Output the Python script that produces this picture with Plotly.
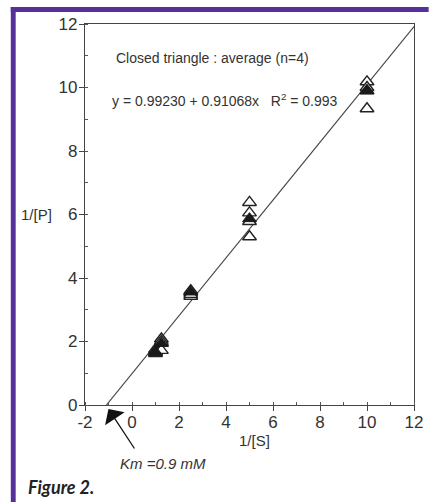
import plotly.graph_objects as go

# ---- data ----
inv_S = [1, 1.25, 2.5, 5, 10]
open_runs = [
    [1.75, 1.62, 1.70, 1.65],
    [2.08, 1.95, 1.72, 2.00],
    [3.42, 3.55, 3.60, 3.48],
    [6.38, 6.05, 5.78, 5.30],
    [10.18, 10.00, 9.90, 9.33],
]
avg_P = [1.67, 1.94, 3.56, 5.87, 9.90]
fit_intercept = 0.99230
fit_slope = 0.91068
fit_x = [-1.09, 12]
x_ticks = [-2, 0, 2, 4, 6, 8, 10, 12]
x_tick_labels = ["-2", "0", "2", "4", "6", "8", "10", "12"]
y_ticks = [0, 2, 4, 6, 8, 10, 12]
y_tick_labels = ["0", "2", "4", "6", "8", "10", "12"]

W, H = 435, 502
ML, MR, MT, MB = 85, 13, 24, 97
pw = W - ML - MR
ph = H - MT - MB

def px2paper_x(px):
    return (px - ML) / pw

def py2paper_y(py):
    return (H - MB - py) / ph

ox, oy = [], []
for xv, runs in zip(inv_S, open_runs):
    for r in runs:
        ox.append(xv)
        oy.append(r)

fig = go.Figure()
fig.add_trace(go.Scatter(
    x=fit_x, y=[fit_intercept + fit_slope * v for v in fit_x],
    mode="lines", line=dict(color="#444444", width=1.2),
    showlegend=False, hoverinfo="skip"))
fig.add_trace(go.Scatter(
    x=ox, y=oy, mode="markers",
    marker=dict(symbol="triangle-up", size=12, color="white",
                line=dict(color="#222222", width=1.4)),
    showlegend=False, cliponaxis=False))
fig.add_trace(go.Scatter(
    x=inv_S, y=avg_P, mode="markers",
    marker=dict(symbol="triangle-up", size=12, color="#1a1a1a",
                line=dict(color="#1a1a1a", width=1)),
    showlegend=False, cliponaxis=False))

axis_common = dict(
    showgrid=False, zeroline=False, showline=True, linecolor="#444444",
    linewidth=1.2, mirror=True, ticks="outside", ticklen=5, tickwidth=1.2,
    tickcolor="#444444",
    tickfont=dict(family="Liberation Sans, Arial, sans-serif", size=17, color="#333333"),
    minor=dict(ticks="inside", ticklen=3, dtick=1, tickcolor="#555555", tickwidth=1),
)

fig.update_layout(
    width=W, height=H,
    margin=dict(l=ML, r=MR, t=MT, b=MB),
    paper_bgcolor="white", plot_bgcolor="white",
    xaxis=dict(range=[-2, 12], tickvals=x_ticks, ticktext=x_tick_labels,
               ticklabelstandoff=-4, **axis_common),
    yaxis=dict(range=[0, 12], tickvals=y_ticks, ticktext=y_tick_labels,
               ticklabelstandoff=-2, **axis_common),
    font=dict(family="Liberation Sans, Arial, sans-serif", color="#333333"),
)

txtfont = dict(family="Liberation Sans, Arial, sans-serif", size=14, color="#333333")
fig.add_annotation(x=-0.75, y=10.93, xref="x", yref="y", text="Closed triangle : average (n=4)",
                   showarrow=False, xanchor="left", yanchor="middle", font=txtfont)
fig.add_annotation(x=-0.92, y=9.6, xref="x", yref="y",
                   text="y = 0.99230 + 0.91068x   R<sup>2</sup> = 0.993",
                   showarrow=False, xanchor="left", yanchor="middle", font=txtfont)
# axis titles
fig.add_annotation(x=px2paper_x(53), y=6.0, xref="paper", yref="y", text="1/[P]",
                   showarrow=False, xanchor="right", yanchor="middle",
                   font=dict(family="Liberation Sans, Arial, sans-serif", size=15, color="#333333"))
fig.add_annotation(x=5.2, y=py2paper_y(440), xref="x", yref="paper", text="1/[S]",
                   showarrow=False, xanchor="center", yanchor="middle",
                   font=dict(family="Liberation Sans, Arial, sans-serif", size=15, color="#333333"))
# Km arrow (paper-referenced so it is not hidden below the axis range)
fig.add_annotation(x=px2paper_x(109), y=py2paper_y(409), xref="paper", yref="paper",
                   ax=27, ay=41, text="", showarrow=True, arrowhead=1, arrowsize=3,
                   arrowwidth=1.3, arrowcolor="#111111", standoff=0, startstandoff=0)
fig.add_annotation(x=1.33, y=py2paper_y(463), xref="x", yref="paper", text="<i>Km =0.9 mM</i>",
                   showarrow=False, xanchor="center", yanchor="middle",
                   font=dict(family="Liberation Sans, Arial, sans-serif", size=15, color="#333333"))
fig.add_annotation(x=px2paper_x(25), y=py2paper_y(487), xref="paper", yref="paper",
                   text="<b><i>Figure 2.</i></b>", showarrow=False, xanchor="left", yanchor="middle",
                   font=dict(family="Lato, Open Sans, sans-serif", size=18, color="#222222"))

# purple frame
purple = "#55309a"
fig.add_shape(type="rect", xref="paper", yref="paper",
              x0=px2paper_x(9), x1=px2paper_x(14), y0=py2paper_y(H + 2), y1=py2paper_y(7),
              fillcolor=purple, line=dict(width=0), layer="above")
fig.add_shape(type="rect", xref="paper", yref="paper",
              x0=px2paper_x(9), x1=px2paper_x(W + 2), y0=py2paper_y(12), y1=py2paper_y(7),
              fillcolor=purple, line=dict(width=0), layer="above")

fig.write_html("out.html")
